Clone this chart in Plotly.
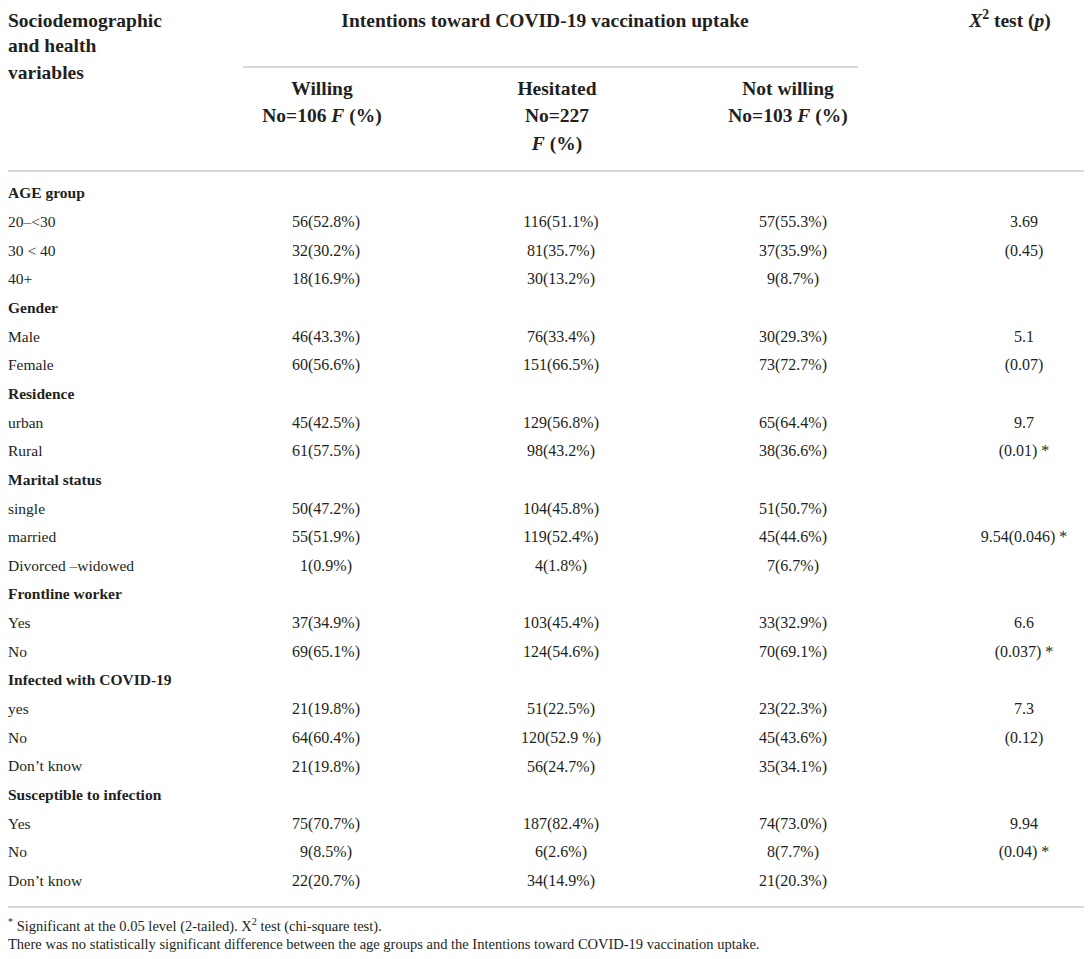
import plotly.graph_objects as go

# Table contents
row_labels = [
    "AGE group", "20–<30", "30 < 40", "40+",
    "Gender", "Male", "Female",
    "Residence", "urban", "Rural",
    "Marital status", "single", "married", "Divorced –widowed",
    "Frontline worker", "Yes", "No",
    "Infected with COVID-19", "yes", "No", "Don’t know",
    "Susceptible to infection", "Yes", "No", "Don’t know",
]
group_rows = ["AGE group", "Gender", "Residence", "Marital status",
              "Frontline worker", "Infected with COVID-19", "Susceptible to infection"]

willing = [
    "", "56(52.8%)", "32(30.2%)", "18(16.9%)",
    "", "46(43.3%)", "60(56.6%)",
    "", "45(42.5%)", "61(57.5%)",
    "", "50(47.2%)", "55(51.9%)", "1(0.9%)",
    "", "37(34.9%)", "69(65.1%)",
    "", "21(19.8%)", "64(60.4%)", "21(19.8%)",
    "", "75(70.7%)", "9(8.5%)", "22(20.7%)",
]
hesitated = [
    "", "116(51.1%)", "81(35.7%)", "30(13.2%)",
    "", "76(33.4%)", "151(66.5%)",
    "", "129(56.8%)", "98(43.2%)",
    "", "104(45.8%)", "119(52.4%)", "4(1.8%)",
    "", "103(45.4%)", "124(54.6%)",
    "", "51(22.5%)", "120(52.9 %)", "56(24.7%)",
    "", "187(82.4%)", "6(2.6%)", "34(14.9%)",
]
not_willing = [
    "", "57(55.3%)", "37(35.9%)", "9(8.7%)",
    "", "30(29.3%)", "73(72.7%)",
    "", "65(64.4%)", "38(36.6%)",
    "", "51(50.7%)", "45(44.6%)", "7(6.7%)",
    "", "33(32.9%)", "70(69.1%)",
    "", "23(22.3%)", "45(43.6%)", "35(34.1%)",
    "", "74(73.0%)", "8(7.7%)", "21(20.3%)",
]
chi2_p = [
    "", "3.69", "(0.45)", "",
    "", "5.1", "(0.07)",
    "", "9.7", "(0.01) *",
    "", "", "9.54(0.046) *", "",
    "", "6.6", "(0.037) *",
    "", "7.3", "(0.12)", "",
    "", "9.94", "(0.04) *", "",
]

header_left = ["Sociodemographic", "and health", "variables"]
group_title = "Intentions toward COVID-19 vaccination uptake"
test_title = "<i>X</i><sup>2</sup> test (<i>p</i>)"
col_titles = [
    ["Willing", "No=106 <i>F</i> (%)"],
    ["Hesitated", "No=227", "<i>F</i> (%)"],
    ["Not willing", "No=103 <i>F</i> (%)"],
]
footnotes = [
    "<sup>*</sup> Significant at the 0.05 level (2-tailed). X<sup>2</sup> test (chi-square test).",
    "There was no statistically significant difference between the age groups and the "
    "Intentions toward COVID-19 vaccination uptake.",
]

# Styling / geometry
W, H = 1092, 959
PAGE_PAD = 8          # default body margin of the html page
FONT = "Liberation Serif"
INK = "#231f20"
RULE = "#cccccc"

first_row_y = 194.5
row_step = 28.65
row_y = [first_row_y + i * row_step for i in range(len(row_labels))]

left_x = PAGE_PAD                    # nothing can be drawn left of the page pad
col_x = [326, 561, 793, 1024]        # data column centres
head_x = [322, 557, 788, 1010]       # header centres
head_line_y = [22, 47, 74]
sub_line_y = [90, 117, 145]


def text_trace(x, y, text, pos, size):
    # drop empty cells
    keep = [i for i, t in enumerate(text) if t]
    return go.Scatter(
        x=[x[i] for i in keep],
        y=[y[i] for i in keep],
        text=[text[i] for i in keep],
        mode="text",
        textposition=pos,
        textfont=dict(family=FONT, size=size, color=INK),
        cliponaxis=False,
        hoverinfo="skip",
    )


fig = go.Figure()

# Left column (row labels)
fig.add_trace(text_trace(
    [left_x] * len(row_labels), row_y,
    [f"<b>{l}</b>" if l in group_rows else l for l in row_labels],
    "middle right", 15.5,
))

# Data columns
for cx, vals in zip(col_x, [willing, hesitated, not_willing, chi2_p]):
    fig.add_trace(text_trace([cx] * len(vals), row_y, vals, "middle center", 16))

# Header: left stub
fig.add_trace(text_trace(
    [left_x] * len(header_left), head_line_y,
    [f"<b>{t}</b>" for t in header_left], "middle right", 19.5,
))

# Header: spanning title and test column
fig.add_trace(text_trace(
    [545, head_x[3]], [head_line_y[0]] * 2,
    [f"<b>{group_title}</b>", f"<b>{test_title}</b>"], "middle center", 19.5,
))

# Header: sub columns
for hx, lines in zip(head_x[:3], col_titles):
    fig.add_trace(text_trace(
        [hx] * len(lines), sub_line_y[:len(lines)],
        [f"<b>{t}</b>" for t in lines], "middle center", 19.5,
    ))

# Footnotes
fig.add_trace(text_trace([left_x, left_x], [927, 945], footnotes, "middle right", 14.5))

# Horizontal rules
rules = [
    dict(x0=243, x1=858, y=67),
    dict(x0=left_x, x1=W, y=171),
    dict(x0=left_x, x1=W, y=907),
]
for r in rules:
    fig.add_shape(type="line", xref="x", yref="y",
                  x0=r["x0"], x1=r["x1"], y0=r["y"], y1=r["y"],
                  line=dict(color=RULE, width=1.5))

# The page puts the figure 8px in from the corner, so the figure is made
# smaller by that much and the axes start at 8 so everything lines up.
fig.update_layout(
    width=W - PAGE_PAD,
    height=H - PAGE_PAD,
    margin=dict(l=0, r=0, t=0, b=0),
    paper_bgcolor="white",
    plot_bgcolor="white",
    showlegend=False,
    xaxis=dict(range=[PAGE_PAD, W], visible=False, fixedrange=True),
    yaxis=dict(range=[H, PAGE_PAD], visible=False, fixedrange=True),
)

fig.write_html("out.html")
